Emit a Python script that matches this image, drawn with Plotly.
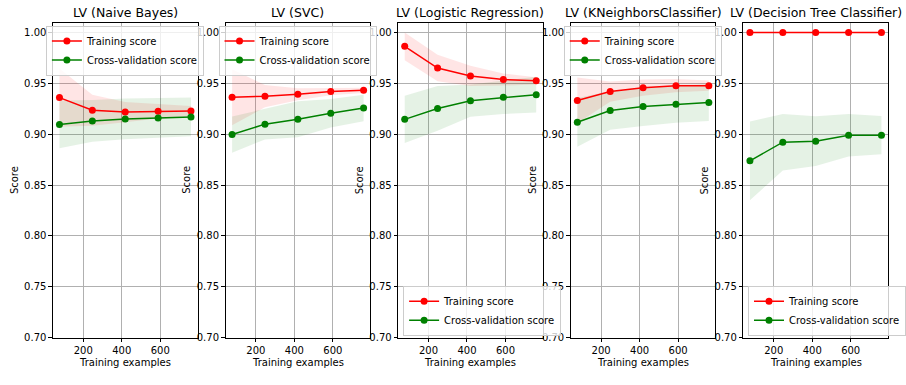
import plotly.graph_objects as go

W, H = 906, 385


def px_x(p):
    return p / W


def px_y(p):
    return 1 - p / H


titles = ["LV (Naive Bayes)", "LV (SVC)", "LV (Logistic Regression)",
          "LV (KNeighborsClassifier)", "LV (Decision Tree Classifier)"]
train_sizes = [76, 247, 418, 589, 760]

train_mean = [
    [0.936, 0.9235, 0.9218, 0.9225, 0.9228],
    [0.9364, 0.9374, 0.9393, 0.9419, 0.9432],
    [0.9864, 0.9651, 0.9573, 0.9538, 0.9525],
    [0.9332, 0.9419, 0.9458, 0.9477, 0.9477],
    [1.0, 1.0, 1.0, 1.0, 1.0],
]
train_std = [
    [0.0287, 0.0152, 0.0100, 0.0070, 0.0050],
    [0.0275, 0.0110, 0.0060, 0.0035, 0.0026],
    [0.0136, 0.0130, 0.0100, 0.0060, 0.0035],
    [0.0225, 0.0100, 0.0080, 0.0065, 0.0050],
    [0.0, 0.0, 0.0, 0.0, 0.0],
]
cv_mean = [
    [0.9096, 0.9131, 0.9150, 0.9160, 0.9170],
    [0.8997, 0.9099, 0.9147, 0.9206, 0.9257],
    [0.9146, 0.9253, 0.9330, 0.9363, 0.9389],
    [0.9117, 0.9233, 0.9272, 0.9295, 0.9311],
    [0.8738, 0.8922, 0.8932, 0.8990, 0.8990],
]
cv_std = [
    [0.0235, 0.0205, 0.0200, 0.0195, 0.0190],
    [0.0178, 0.0150, 0.0177, 0.0140, 0.0130],
    [0.0233, 0.0220, 0.0158, 0.0165, 0.0176],
    [0.0240, 0.0190, 0.0190, 0.0183, 0.0180],
    [0.0388, 0.0278, 0.0245, 0.0210, 0.0188],
]
legend_loc = ["top", "top", "bottom", "top", "bottom"]

# layout geometry (page pixels)
panel_px = [(53, 198), (226, 371), (399, 544), (572, 717), (745, 890)]
top_px, bot_px = 23, 343
ydom = [px_y(bot_px), px_y(top_px)]

FONT = "DejaVu Sans"
RED = "#ff0000"
GREEN = "#008000"

fig = go.Figure()
annotations = []
layout = dict(
    width=W, height=H,
    margin=dict(l=0, r=0, t=0, b=0),
    paper_bgcolor="white", plot_bgcolor="white",
    font=dict(family=FONT, size=10, color="#000000"),
    showlegend=True,
)

for i in range(5):
    ax = "" if i == 0 else str(i + 1)
    xa, ya = "x" + ax, "y" + ax
    leg = "legend" + ax
    tm, ts = train_mean[i], train_std[i]
    cm, cs = cv_mean[i], cv_std[i]
    xs = train_sizes
    fig.add_trace(go.Scatter(
        x=xs + xs[::-1],
        y=[m + s for m, s in zip(tm, ts)] + [m - s for m, s in zip(tm, ts)][::-1],
        fill="toself", fillcolor="rgba(255,0,0,0.1)", line=dict(width=0),
        mode="lines", showlegend=False, hoverinfo="skip", xaxis=xa, yaxis=ya))
    fig.add_trace(go.Scatter(
        x=xs + xs[::-1],
        y=[m + s for m, s in zip(cm, cs)] + [m - s for m, s in zip(cm, cs)][::-1],
        fill="toself", fillcolor="rgba(0,128,0,0.1)", line=dict(width=0),
        mode="lines", showlegend=False, hoverinfo="skip", xaxis=xa, yaxis=ya))
    fig.add_trace(go.Scatter(
        x=xs, y=tm, mode="lines+markers", name="Training score",
        line=dict(color=RED, width=1.5), marker=dict(color=RED, size=7),
        xaxis=xa, yaxis=ya, legend=leg))
    fig.add_trace(go.Scatter(
        x=xs, y=cm, mode="lines+markers", name="Cross-validation score",
        line=dict(color=GREEN, width=1.5), marker=dict(color=GREEN, size=7),
        xaxis=xa, yaxis=ya, legend=leg))

    x0, x1 = panel_px[i]
    layout["xaxis" + ax] = dict(
        domain=[px_x(x0), px_x(x1)], anchor=ya, range=[41.8, 794.2],
        tickvals=[200, 400, 600], ticks="outside", ticklen=3.5, tickwidth=0.8,
        tickcolor="#000", showgrid=True, gridcolor="#b0b0b0", gridwidth=0.8,
        showline=True, linecolor="#000", linewidth=1, mirror=True,
        zeroline=False, tickfont=dict(size=10, family=FONT, color="#000"))
    layout["yaxis" + ax] = dict(
        domain=ydom, anchor=xa, range=[0.70, 1.0097],
        tickvals=[0.70, 0.75, 0.80, 0.85, 0.90, 0.95, 1.00],
        ticktext=["0.70", "0.75", "0.80", "0.85", "0.90", "0.95", "1.00"],
        ticks="outside", ticklen=3.5, tickwidth=0.8, tickcolor="#000",
        showgrid=True, gridcolor="#b0b0b0", gridwidth=0.8,
        showline=True, linecolor="#000", linewidth=1, mirror=True,
        zeroline=False, tickfont=dict(size=10, family=FONT, color="#000"))

    cx = px_x((x0 + x1) / 2)
    annotations.append(dict(text=titles[i], x=cx, y=px_y(13), xref="paper", yref="paper",
                            xanchor="center", yanchor="middle", showarrow=False,
                            font=dict(size=12.5, family=FONT, color="#000")))
    annotations.append(dict(text="Training examples", x=cx, y=px_y(368), xref="paper",
                            yref="paper", xanchor="center", yanchor="middle", showarrow=False,
                            font=dict(size=10, family=FONT, color="#000")))
    annotations.append(dict(text="Score", x=px_x(x0 - 39), y=px_y(183), xref="paper",
                            yref="paper", xanchor="center", yanchor="middle", showarrow=False,
                            textangle=-90, font=dict(size=10, family=FONT, color="#000")))

    if legend_loc[i] == "top":
        lx, ly, yanc = px_x(x0 - 7), px_y(26), "top"
    else:
        lx, ly, yanc = px_x(x0 + 5), px_y(341), "bottom"
    layout[leg] = dict(
        x=lx, y=ly, xanchor="left", yanchor=yanc, xref="paper", yref="paper",
        bgcolor="rgba(255,255,255,0.8)", bordercolor="#cccccc", borderwidth=1,
        font=dict(size=10, family=FONT, color="#000"),
        itemwidth=30, tracegroupgap=0)

layout["annotations"] = annotations
fig.update_layout(**layout)
# remove the browser's default 8px body margin so the figure fills the window
fig.write_html("out.html",
               config={"displayModeBar": False},
               post_script="document.body.style.margin='0';document.body.style.overflow='hidden';")
